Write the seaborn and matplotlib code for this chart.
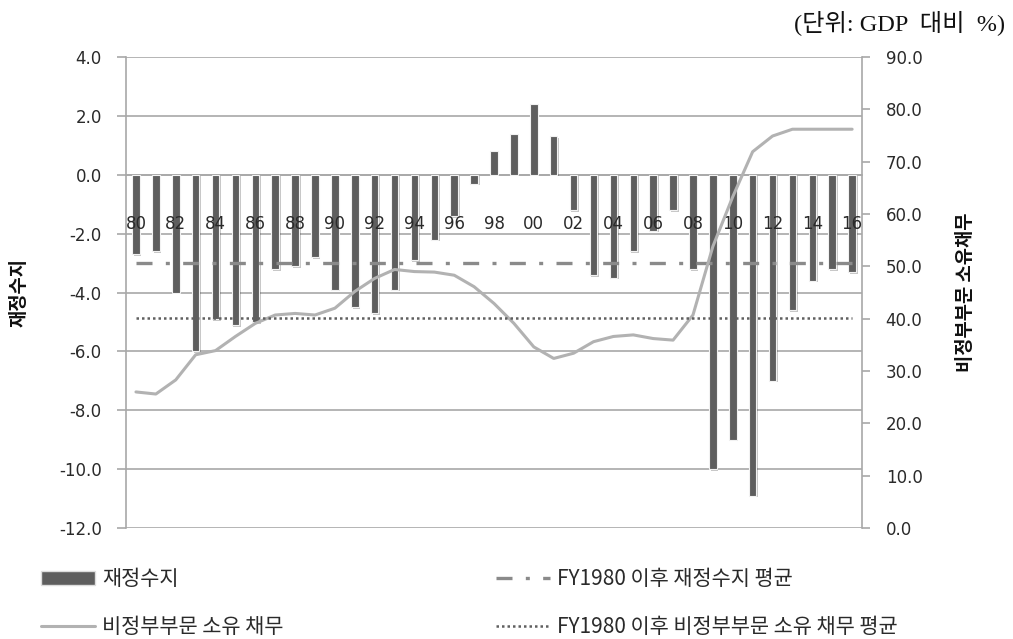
import numpy as np
import pandas as pd
import matplotlib
matplotlib.use("Agg")
import matplotlib.pyplot as plt
import matplotlib.patheffects as pe
from matplotlib.patches import Patch
from matplotlib.lines import Line2D
import seaborn as sns

# FY1980 - FY2016
years = ["80", "81", "82", "83", "84", "85", "86", "87", "88", "89",
         "90", "91", "92", "93", "94", "95", "96", "97", "98", "99",
         "00", "01", "02", "03", "04", "05", "06", "07", "08", "09",
         "10", "11", "12", "13", "14", "15", "16"]

# fiscal balance (% of GDP), left axis
balance = [-2.7, -2.6, -4.0, -6.0, -4.9, -5.1, -5.0, -3.2, -3.1, -2.8,
           -3.9, -4.5, -4.7, -3.9, -2.9, -2.2, -1.4, -0.3, 0.8, 1.4,
           2.4, 1.3, -1.2, -3.4, -3.5, -2.6, -1.9, -1.2, -3.2, -10.0,
           -9.0, -10.9, -7.0, -4.6, -3.6, -3.2, -3.3]

# debt held by the public (% of GDP), right axis
debt = [26.0, 25.6, 28.3, 33.1, 33.9, 36.6, 39.1, 40.7, 41.0, 40.7,
        42.0, 45.2, 47.7, 49.4, 49.0, 48.9, 48.3, 46.1, 42.9, 39.1,
        34.6, 32.4, 33.4, 35.6, 36.6, 36.9, 36.2, 35.9, 40.7, 53.8,
        63.3, 71.9, 74.9, 76.2, 76.2, 76.2, 76.2]

balance_avg = -3.0
debt_avg = 40.1

left_ticks = [4.0, 2.0, 0.0, -2.0, -4.0, -6.0, -8.0, -10.0, -12.0]
right_ticks = [90, 80, 70, 60, 50, 40, 30, 20, 10, 0]

label_balance = "재정수지"
label_debt = "비정부부문 소유 채무"
label_balance_avg = "FY1980 이후 재정수지 평균"
label_debt_avg = "FY1980 이후 비정부부문 소유 채무 평균"
ylabel_left = "재정수지"
ylabel_right = "비정부부문 소유채무"
unit_text = "(단위: GDP  대비  %)"

sns.set_style("white")
plt.rcParams["font.family"] = ["DejaVu Sans", "Noto Sans CJK KR"]
kr = ["Noto Sans CJK KR", "DejaVu Sans"]

BAR = "#5e5e5e"
GRID = "#a8a8a8"
TXT = "#2a2a2a"

df = pd.DataFrame({"year": years, "balance": balance, "debt": debt})
x_idx = np.arange(len(years))

fig = plt.figure(figsize=(10.13, 6.39), dpi=100)
ax = fig.add_axes([0.1244, 0.1737, 0.7266, 0.7371])

sns.barplot(data=df, x="year", y="balance", order=years, color=BAR,
            saturation=1, width=0.38, ax=ax, zorder=3,
            edgecolor="#f2f2f2", linewidth=0.8)
for bar in ax.patches:
    bar.set_path_effects([pe.SimplePatchShadow(offset=(1.2, -1.2), alpha=0.25),
                          pe.Normal()])

ax.set_xlim(-0.5, len(years) - 0.5)
ax.set_ylim(-12, 4)
ax.set_yticks(left_ticks)
ax.set_yticklabels([f"{v:.1f}" for v in left_ticks])
ax.yaxis.grid(True, color=GRID, lw=1.2)
ax.set_axisbelow(True)

# x axis sits on zero line; labels every other year, drawn over the bars
ax.spines["bottom"].set_position(("data", 0))
ax.spines["top"].set_visible(False)
for s in ["left", "right", "bottom"]:
    ax.spines[s].set_color(GRID)
    ax.spines[s].set_linewidth(1.2)
ax.set_xticks(x_idx[::2])
ax.set_xticklabels(years[::2])
ax.set_xticks(np.arange(-0.5, len(years), 1.0), minor=True)
ax.tick_params(axis="x", which="major", length=0, pad=29, labelsize=12,
               labelcolor=TXT)
ax.tick_params(axis="x", which="minor", length=6, width=1.2, color=GRID,
               direction="out")
ax.xaxis.set_zorder(4)
ax.tick_params(axis="y", length=6.5, width=1.2, color=GRID, pad=11,
               labelsize=12, labelcolor=TXT)
ax.set_xlabel("")
ax.set_ylabel(ylabel_left, family=kr, fontsize=13.5, fontweight="bold",
              color="#111111", labelpad=22)

ends = [x_idx[0], x_idx[-1]]
ax.plot(ends, [balance_avg, balance_avg], color="#8a8a8a", lw=2.4,
        linestyle=(0, (4.8, 4, 1.2, 4)), zorder=4)

ax2 = ax.twinx()
sns.lineplot(data=df.assign(x=x_idx), x="x", y="debt", ax=ax2,
             color="#b2b2b2", lw=2.2)
ax2.plot(ends, [debt_avg, debt_avg], color="#606060", lw=1.8,
         linestyle=(0, (1, 1.2)))
ax2.set_xlim(-0.5, len(years) - 0.5)
ax2.set_ylim(0, 90)
ax2.set_yticks(right_ticks)
ax2.set_yticklabels([f"{v:.1f}" for v in right_ticks])
ax2.tick_params(axis="y", length=6, width=1.2, color=GRID, pad=11,
                labelsize=12, labelcolor=TXT)
for s in ["left", "right", "top", "bottom"]:
    ax2.spines[s].set_visible(False)
ax2.set_xlabel("")
ax2.set_ylabel(ylabel_right, family=kr, fontsize=13.5, fontweight="bold",
               color="#111111", labelpad=24)

leg_kw = dict(frameon=False, loc="lower left", handlelength=2.6,
              handletextpad=0.35, labelspacing=1.25,
              prop={"family": kr, "size": 15}, labelcolor=TXT,
              borderaxespad=0)
h_left = [Patch(facecolor=BAR, edgecolor="#dddddd"),
          Line2D([], [], color="#b2b2b2", lw=2.2)]
h_right = [Line2D([], [], color="#8a8a8a", lw=2.4,
                  linestyle=(0, (4.8, 4, 1.2, 4))),
           Line2D([], [], color="#606060", lw=1.8, linestyle=(0, (1, 1.2)))]
fig.legend(h_left, [label_balance, label_debt],
           bbox_to_anchor=(0.032, -0.012), **leg_kw)
fig.legend(h_right, [label_balance_avg, label_debt_avg],
           bbox_to_anchor=(0.481, -0.012), **leg_kw)

fig.text(0.992, 0.963, unit_text, ha="right", va="center", fontsize=17.5,
         family=["Liberation Serif", "Noto Sans CJK KR"], color="#111111")

fig.savefig("out.png", dpi=100)
